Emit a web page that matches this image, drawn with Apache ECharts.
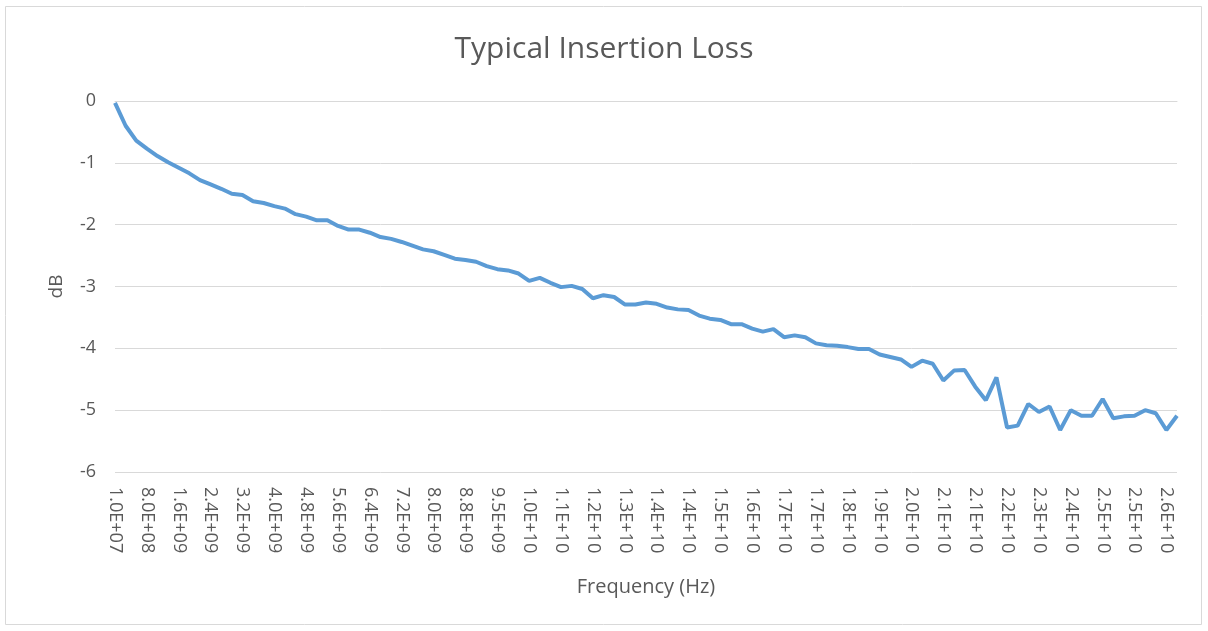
<!DOCTYPE html>
<html>
<head>
<meta charset="utf-8">
<title>Typical Insertion Loss</title>
<script src="https://cdn.jsdelivr.net/npm/echarts@6/dist/echarts.min.js"></script>
<style>
  html, body { margin: 0; padding: 0; background: #fff; }
  #chart { width: 1208px; height: 631px; }
</style>
</head>
<body>
<div id="chart"></div>
<script>
// sweep: 10 MHz .. 26.5 GHz, 101 points
var startHz = 1.0e7;
var stepHz = 2.649e8;
var pointCount = 101;

// insertion loss (dB)
var lossDb = [
  -0.03, -0.40, -0.64, -0.77, -0.89, -0.99, -1.08, -1.17, -1.28, -1.35,
  -1.42, -1.50, -1.52, -1.62, -1.65, -1.70, -1.74, -1.83, -1.87, -1.93,
  -1.93, -2.02, -2.08, -2.08, -2.13, -2.20, -2.23, -2.28, -2.34, -2.40,
  -2.43, -2.49, -2.55, -2.57, -2.60, -2.67, -2.72, -2.74, -2.79, -2.91,
  -2.86, -2.94, -3.01, -2.99, -3.04, -3.19, -3.14, -3.17, -3.29, -3.29,
  -3.26, -3.28, -3.34, -3.37, -3.38, -3.47, -3.52, -3.54, -3.61, -3.61,
  -3.68, -3.73, -3.69, -3.82, -3.79, -3.82, -3.92, -3.95, -3.96, -3.98,
  -4.01, -4.01, -4.10, -4.14, -4.18, -4.30, -4.20, -4.25, -4.52, -4.36,
  -4.35, -4.62, -4.84, -4.47, -5.28, -5.25, -4.90, -5.03, -4.94, -5.32,
  -5.00, -5.09, -5.09, -4.82, -5.13, -5.10, -5.09, -5.00, -5.05, -5.32,
  -5.09
];

var freqHz = [];
for (var i = 0; i < pointCount; i++) {
  freqHz.push(startHz + i * stepHz);
}

// Excel style 0.0E+00
function sci(v) {
  var s = Number(v).toExponential(1).split('e');
  var exp = parseInt(s[1], 10);
  var sign = exp < 0 ? '-' : '+';
  exp = Math.abs(exp);
  return s[0] + 'E' + sign + (exp < 10 ? '0' + exp : '' + exp);
}

var textColor = '#595959';
var gridColor = '#d9d9d9';
var fontFamily = '"Open Sans", "Noto Sans", sans-serif';

var chartDom = document.getElementById('chart');
var myChart = echarts.init(chartDom);
var option;

option = {
  animation: false,
  backgroundColor: '#fff',
  graphic: [
    {
      type: 'rect',
      shape: { x: 5.5, y: 6.5, width: 1196, height: 618 },
      style: { fill: 'none', stroke: gridColor, lineWidth: 1 },
      silent: true,
    },
  ],
  title: {
    text: 'Typical Insertion Loss',
    left: 'center',
    top: 29,
    textStyle: {
      color: textColor,
      fontFamily: fontFamily,
      fontSize: 30,
      fontWeight: 'normal',
    },
  },
  grid: {
    left: 115,
    right: 31,
    top: 101,
    bottom: 159,
    containLabel: false,
  },
  xAxis: {
    type: 'category',
    data: freqHz,
    boundaryGap: false,
    name: 'Frequency (Hz)',
    nameLocation: 'middle',
    nameGap: 105,
    nameTextStyle: {
      color: textColor,
      fontFamily: fontFamily,
      fontSize: 20,
    },
    axisLine: { lineStyle: { color: gridColor, width: 1 } },
    axisTick: { show: false },
    axisLabel: {
      interval: 2,
      rotate: -90,
      margin: 15,
      color: textColor,
      fontFamily: fontFamily,
      fontSize: 18,
      formatter: function (value) {
        return sci(value);
      },
    },
    splitLine: { show: false },
  },
  yAxis: {
    type: 'value',
    min: -6,
    max: 0,
    interval: 1,
    name: 'dB',
    nameLocation: 'middle',
    nameGap: 49,
    nameTextStyle: {
      color: textColor,
      fontFamily: fontFamily,
      fontSize: 19,
    },
    axisLine: { show: false },
    axisTick: { show: false },
    axisLabel: {
      margin: 19,
      color: textColor,
      fontFamily: fontFamily,
      fontSize: 18,
    },
    splitLine: { lineStyle: { color: gridColor, width: 1 } },
  },
  series: [
    {
      name: 'Insertion Loss',
      type: 'line',
      data: lossDb,
      showSymbol: false,
      smooth: false,
      lineStyle: { color: '#5b9bd5', width: 4 },
      itemStyle: { color: '#5b9bd5' },
    },
  ],
};

option && myChart.setOption(option);
</script>
</body>
</html>
